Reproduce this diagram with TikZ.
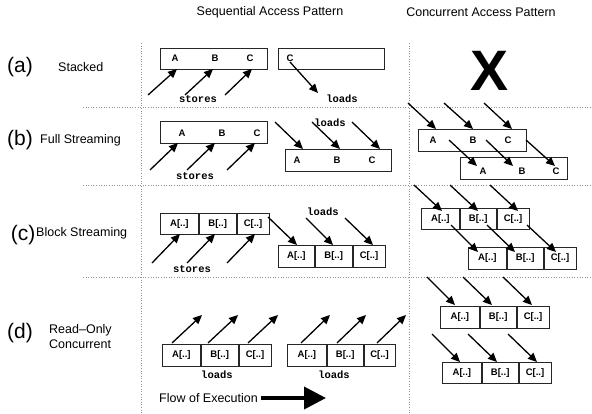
\documentclass[tikz,border=0pt]{standalone}
\usepackage{fontspec}
\setmainfont{Liberation Sans}
\newfontfamily\codefont{Liberation Mono}
\usetikzlibrary{arrows.meta}

\tikzset{
  sep/.style={gray!85, dotted, line width=0.6pt},
  arr/.style={line width=1.3pt, -{Triangle[length=9pt,width=8pt]}},
  box/.style={draw=black!85, line width=0.8pt, inner sep=0pt, anchor=north west},
  cell/.style={box, font=\fontsize{9.5}{10}\selectfont\bfseries},
  letter/.style={font=\fontsize{9.5}{10}\selectfont\bfseries, inner sep=0pt},
  code/.style={font=\codefont\fontsize{10.5}{11}\selectfont\bfseries, inner sep=0pt},
  title/.style={font=\fontsize{12.5}{13}\selectfont, inner sep=0pt},
  tag/.style={font=\fontsize{21}{22}\selectfont, inner sep=0pt},
  rowname/.style={font=\fontsize{12.5}{15}\selectfont, inner sep=0pt, anchor=west, align=left},
}

\begin{document}
\begin{tikzpicture}[x=1pt, y=-1pt]
\useasboundingbox (0,0) rectangle (592,413);

% column headings
\node[title] (hseq) at (270,12) {Sequential Access Pattern};
\node[title] (hcon) at (481,12) {Concurrent Access Pattern};

% grid separators
\draw[sep] (141,43) -- (141,413);
\draw[sep] (409,43) -- (409,413);
\foreach \yy in {107,185,277} \draw[sep] (83,\yy) -- (592,\yy);

% row names
\node[tag] (ta) at (20,67) {(a)};
\node[rowname] (na) at (58,67) {Stacked};
\node[tag] (tb) at (20,140) {(b)};
\node[rowname] (nb) at (40,140) {Full Streaming};
\node[tag] (tc) at (23,235) {(c)};
\node[rowname] (nc) at (36,233) {Block Streaming};
\node[tag] (td) at (20,333) {(d)};
\node[rowname] (nd) at (49,337) {Read--Only\\Concurrent};

% ---------- (a) stacked ----------
\node[box, minimum width=107pt, minimum height=21pt] (sa1) at (160,48) {};
\node[letter] (sa1A) at (175,58) {A};
\node[letter] (sa1B) at (215,58) {B};
\node[letter] (sa1C) at (250,58) {C};
\foreach \sx/\sy/\ex/\ey in {148/95/177/69, 185/95/213/69, 225/95/252/69}
  \draw[arr] (\sx,\sy) -- (\ex,\ey);
\node[code] (sast) at (198,99) {stores};

\node[box, minimum width=106pt, minimum height=21pt] (sa2) at (278,48) {};
\node[letter] (sa2C) at (290,58) {C};
\coordinate (sald) at (318,93);
\draw[arr] (290,62) -- (sald);
\node[code] (salo) at (342,99) {loads};

\node[font=\fontsize{57}{57}\selectfont\bfseries, inner sep=0pt] (nox) at (490,71) {X};

% ---------- (b) full streaming ----------
\node[box, minimum width=107pt, minimum height=22pt] (sb1) at (160,121) {};
\node[letter] (sb1A) at (182,133) {A};
\node[letter] (sb1B) at (222,133) {B};
\node[letter] (sb1C) at (257,133) {C};
\foreach \sx/\sy/\ex/\ey in {150/170/178/143, 187/170/215/143, 227/170/255/143}
  \draw[arr] (\sx,\sy) -- (\ex,\ey);
\node[code] (sbst) at (195,176) {stores};

\node[box, minimum width=106pt, minimum height=22pt] (sb2) at (285,149) {};
\node[letter] (sb2A) at (297,160) {A};
\node[letter] (sb2B) at (337,160) {B};
\node[letter] (sb2C) at (372,160) {C};
\node[code] (sblo) at (330,123) {loads};
\foreach \sx/\sy/\ex/\ey in {275/122/303/149, 312/122/340/149, 352/122/380/149}
  \draw[arr] (\sx,\sy) -- (\ex,\ey);

\node[box, minimum width=108pt, minimum height=22pt] (cb1) at (418,129) {};
\node[letter] (cb1A) at (433,140) {A};
\node[letter] (cb1B) at (473,140) {B};
\node[letter] (cb1C) at (508,140) {C};
\node[box, minimum width=107pt, minimum height=22pt] (cb2) at (460,157) {};
\node[letter] (cb2A) at (483,171) {A};
\node[letter] (cb2B) at (522,171) {B};
\node[letter] (cb2C) at (556,171) {C};
\foreach \sx/\sy/\ex/\ey in {408/103/436/129, 444/103/473/129, 484/103/512/129,
                             449/140/477/166, 486/140/513/166, 526/140/555/166}
  \draw[arr] (\sx,\sy) -- (\ex,\ey);

% ---------- (c) block streaming ----------
\node[cell, minimum width=38pt, minimum height=21pt] (sc1a) at (160,213) {A[..]};
\node[cell, minimum width=37pt, minimum height=21pt] (sc1b) at (sc1a.north east) {B[..]};
\node[cell, minimum width=32pt, minimum height=21pt] (sc1c) at (sc1b.north east) {C[..]};
\foreach \sx/\sy/\ex/\ey in {152/263/180/234, 187/263/215/234, 227/263/255/234}
  \draw[arr] (\sx,\sy) -- (\ex,\ey);
\node[code] (scst) at (192,269) {stores};

\node[cell, minimum width=36pt, minimum height=22pt] (sc2a) at (278,245) {A[..]};
\node[cell, minimum width=37pt, minimum height=22pt] (sc2b) at (sc2a.north east) {B[..]};
\node[cell, minimum width=32pt, minimum height=22pt] (sc2c) at (sc2b.north east) {C[..]};
\node[code] (sclo) at (323,212) {loads};
\foreach \sx/\sy/\ex/\ey in {268/217/297/245, 306/218/333/245, 345/218/373/245}
  \draw[arr] (\sx,\sy) -- (\ex,\ey);

\node[cell, minimum width=38pt, minimum height=21pt] (cc1a) at (421,208) {A[..]};
\node[cell, minimum width=36pt, minimum height=21pt] (cc1b) at (cc1a.north east) {B[..]};
\node[cell, minimum width=32pt, minimum height=21pt] (cc1c) at (cc1b.north east) {C[..]};
\node[cell, minimum width=38pt, minimum height=22pt] (cc2a) at (468,247) {A[..]};
\node[cell, minimum width=36pt, minimum height=22pt] (cc2b) at (cc2a.north east) {B[..]};
\node[cell, minimum width=32pt, minimum height=22pt] (cc2c) at (cc2b.north east) {C[..]};
\foreach \sx/\sy/\ex/\ey in {414/185/442/211, 450/185/478/211, 490/185/518/211,
                             451/225/478/252, 487/225/515/252, 527/225/556/252}
  \draw[arr] (\sx,\sy) -- (\ex,\ey);

% ---------- (d) read-only concurrent ----------
\node[cell, minimum width=38pt, minimum height=22pt] (sd1a) at (162,344) {A[..]};
\node[cell, minimum width=37pt, minimum height=22pt] (sd1b) at (sd1a.north east) {B[..]};
\node[cell, minimum width=32pt, minimum height=22pt] (sd1c) at (sd1b.north east) {C[..]};
\foreach \sx/\sy/\ex/\ey in {172/343/202/315, 208/343/238/315, 248/343/278/315}
  \draw[arr] (\sx,\sy) -- (\ex,\ey);
\node[code] (sdlo1) at (217,375) {loads};

\node[cell, minimum width=39pt, minimum height=22pt] (sd2a) at (287,344) {A[..]};
\node[cell, minimum width=36pt, minimum height=22pt] (sd2b) at (sd2a.north east) {B[..]};
\node[cell, minimum width=31pt, minimum height=22pt] (sd2c) at (sd2b.north east) {C[..]};
\foreach \sx/\sy/\ex/\ey in {301/343/330/315, 337/343/366/315, 377/343/406/315}
  \draw[arr] (\sx,\sy) -- (\ex,\ey);
\node[code] (sdlo2) at (334,375) {loads};

\node[cell, minimum width=39pt, minimum height=22pt] (cd1a) at (440,306) {A[..]};
\node[cell, minimum width=36pt, minimum height=22pt] (cd1b) at (cd1a.north east) {B[..]};
\node[cell, minimum width=32pt, minimum height=22pt] (cd1c) at (cd1b.north east) {C[..]};
\node[cell, minimum width=39pt, minimum height=21pt] (cd2a) at (442,362) {A[..]};
\node[cell, minimum width=36pt, minimum height=21pt] (cd2b) at (cd2a.north east) {B[..]};
\node[cell, minimum width=32pt, minimum height=21pt] (cd2c) at (cd2b.north east) {C[..]};
\foreach \sx/\sy/\ex/\ey in {427/277/455/305, 463/277/492/305, 503/277/532/305,
                             432/334/460/362, 468/334/497/362, 508/334/537/362}
  \draw[arr] (\sx,\sy) -- (\ex,\ey);

% flow of execution
\node[title, anchor=west] (flow) at (159,398) {Flow of Execution};
\coordinate (flowend) at (326,398);
\draw[line width=3.8pt, -{Triangle[length=22pt,width=22pt]}] ([xshift=3pt]flow.east) -- (flowend);

\end{tikzpicture}
\end{document}
